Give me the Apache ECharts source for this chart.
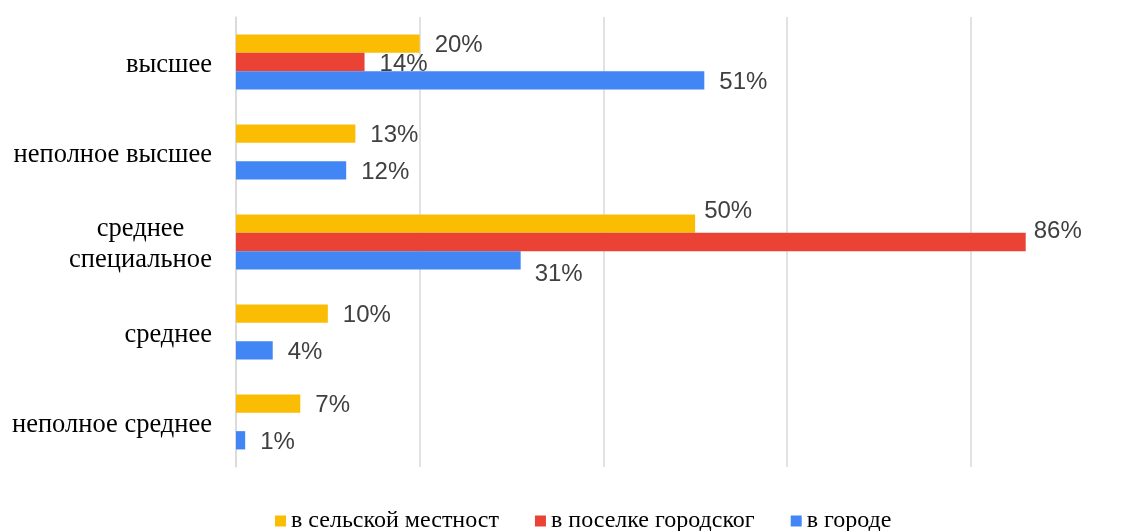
<!DOCTYPE html>
<html>
<head>
<meta charset="utf-8">
<script src="https://cdn.jsdelivr.net/npm/echarts@6/dist/echarts.min.js"></script>
<style>
  html, body { margin: 0; padding: 0; background: #fff; }
  #chart { width: 1146px; height: 531px; }
</style>
</head>
<body>
<div id="chart"></div>
<script>
// категории (сверху вниз)
var categories = ["высшее", "неполное высшее", "среднее\nспециальное", "среднее", "неполное среднее"];
var seriesNames = ["в сельской местност", "в поселке городског", "в городе"];
var rural = [20, 13, 50, 10, 7];
var township = [14, null, 86, null, null];
var city = [51, 12, 31, 4, 1];

var colors = ["#FBBC04", "#EA4335", "#4285F4"];
// сдвиг подписей, где они раздвинуты (группа "среднее специальное")
var labelShift = [
  { 2: [-6, -12] },
  { 2: [-7, -11] },
  { 2: [-1, 14] }
];

var myChart = echarts.init(document.getElementById("chart"));

function buildData(values, idx) {
  return values.map(function (v, i) {
    if (v === null) return "-";
    var item = { value: v };
    if (labelShift[idx][i]) {
      item.label = { offset: labelShift[idx][i] };
    }
    return item;
  });
}

var seriesArr = [rural, township, city].map(function (vals, idx) {
  return {
    name: seriesNames[idx],
    type: "bar",
    data: buildData(vals, idx),
    barGap: "0%",
    barCategoryGap: "39%",
    itemStyle: { color: colors[idx] },
    label: {
      show: true,
      position: "right",
      distance: 15,
      offset: [0, 2],
      color: "#404040",
      fontSize: 24,
      fontFamily: "Liberation Sans, Arial, sans-serif",
      formatter: function (p) {
        return p.value + "%";
      }
    }
  };
});

myChart.setOption({
  animation: false,
  backgroundColor: "#fff",
  color: colors,
  grid: {
    left: 236,
    right: 0,
    top: 17,
    bottom: 64,
    containLabel: false
  },
  legend: {
    data: seriesNames,
    left: 270,
    top: 504,
    icon: "rect",
    itemWidth: 11,
    itemHeight: 11,
    itemGap: 36,
    textStyle: {
      color: "#000",
      fontSize: 24,
      fontFamily: "Liberation Serif, Times New Roman, serif"
    }
  },
  xAxis: {
    type: "value",
    min: 0,
    max: 99.1, // шкала до 100% обрезана правым краем картинки
    interval: 20,
    axisLine: { show: false },
    axisTick: { show: false },
    axisLabel: { show: false },
    splitLine: {
      show: true,
      showMaxLine: false,
      lineStyle: { color: "#d9d9d9", width: 1.5 }
    }
  },
  yAxis: {
    type: "category",
    inverse: true,
    data: categories,
    axisLine: { show: true, lineStyle: { color: "#d9d9d9", width: 1.5 } },
    axisTick: { show: false },
    axisLabel: {
      margin: 24,
      formatter: function (v) {
        return "{c|" + v + "}";
      },
      rich: {
        c: {
          align: "center",
          color: "#000",
          fontSize: 26.5,
          lineHeight: 31,
          padding: [6, 0, 0, 0],
          fontFamily: "Liberation Serif, Times New Roman, serif"
        }
      }
    }
  },
  series: seriesArr
});
</script>
</body>
</html>
